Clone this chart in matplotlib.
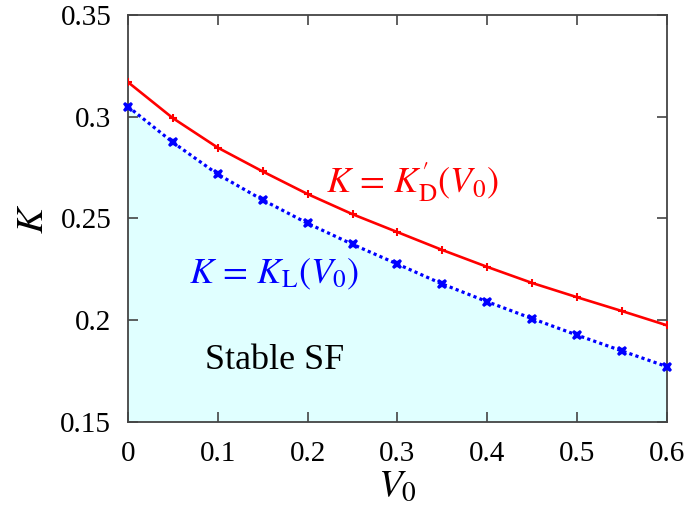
import numpy as np
import matplotlib
matplotlib.use('Agg')
import matplotlib.pyplot as plt

# data
v0 = [0.0, 0.05, 0.1, 0.15, 0.2, 0.25, 0.3, 0.35, 0.4, 0.45, 0.5, 0.55, 0.6]
k_d = [0.317, 0.2993, 0.2848, 0.2731, 0.2620, 0.2521, 0.2433, 0.2345, 0.2262, 0.2183, 0.2113, 0.2045, 0.1975]
k_l = [0.3050, 0.2874, 0.2717, 0.2591, 0.2476, 0.2373, 0.2276, 0.2178, 0.2091, 0.2008, 0.1927, 0.1849, 0.1772]

x_ticks = [0, 0.1, 0.2, 0.3, 0.4, 0.5, 0.6]
x_tick_labels = ['0', '0.1', '0.2', '0.3', '0.4', '0.5', '0.6']
y_ticks = [0.15, 0.2, 0.25, 0.3, 0.35]
y_tick_labels = ['0.15', '0.2', '0.25', '0.3', '0.35']

plt.rcParams['font.family'] = 'serif'
plt.rcParams['font.serif'] = ['Liberation Serif', 'DejaVu Serif']
plt.rcParams['mathtext.fontset'] = 'stix'

fig = plt.figure(figsize=(6.91, 5.13), dpi=100)
ax = fig.add_axes([0.1852, 0.1774, 0.780, 0.7934])

# stable region below the blue curve
ax.fill_between(v0, k_l, 0.15, color='#e0ffff', lw=0, zorder=1)

ax.plot(v0, k_d, color='red', lw=1.9, marker='+', ms=6, mew=1.5, zorder=3)
ax.plot(v0, k_l, color='blue', lw=2.3, ls=(0, (1, 1)), marker='X', ms=7.5,
        mew=0, zorder=3, clip_on=False)

ax.set_xlim(0, 0.6)
ax.set_ylim(0.15, 0.35)
ax.set_xticks(x_ticks)
ax.set_xticklabels(x_tick_labels, family='Liberation Serif')
ax.set_yticks(y_ticks)
ax.set_yticklabels(y_tick_labels, family='Liberation Serif')
ax.tick_params(direction='in', top=True, right=True, length=7, width=1.2,
               labelsize=21, color='#444444')
ax.tick_params(axis='x', pad=14)
ax.tick_params(axis='y', pad=12)
for s in ax.spines.values():
    s.set_linewidth(1.3)
    s.set_color('#444444')

ax.set_xlabel(r'$V_0$', fontsize=28, labelpad=0)
ax.set_ylabel(r'$K$', fontsize=28, labelpad=6)

ax.text(0.316, 0.263, r"$K\,=\,K_{\mathrm{D}}^{\prime}(V_0)$", color='red',
        fontsize=26, ha='center', va='baseline')
ax.text(0.1625, 0.2183, r"$K\,=\,K_{\mathrm{L}}(V_0)$", color='blue',
        fontsize=26, ha='center', va='baseline')
ax.text(0.0857, 0.176, 'Stable SF', fontsize=26, ha='left', va='baseline')

fig.savefig('out.png', dpi=100)
